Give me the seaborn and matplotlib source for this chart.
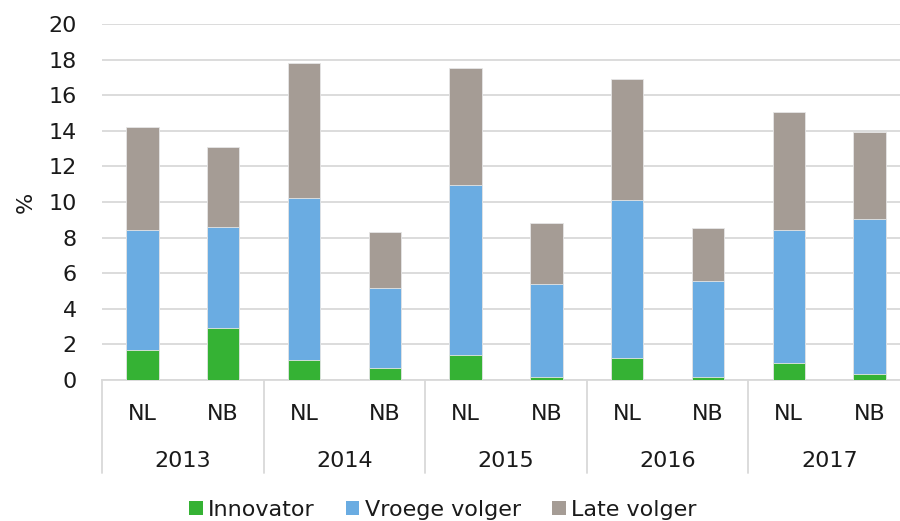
import numpy as np
import pandas as pd
import matplotlib
matplotlib.use("Agg")
import matplotlib.pyplot as plt
import matplotlib.transforms as mtransforms
from matplotlib.patches import Patch
import seaborn as sns

years = ["2013", "2014", "2015", "2016", "2017"]
regions = ["NL", "NB"]
series = ["Innovator", "Vroege volger", "Late volger"]
colors = ["#35B234", "#6AACE2", "#A59C95"]

innovator = [1.7, 2.9, 1.1, 0.65, 1.4, 0.15, 1.25, 0.15, 0.95, 0.35]
vroege_volger = [6.7, 5.7, 9.1, 4.5, 9.55, 5.25, 8.85, 5.4, 7.5, 8.7]
late_volger = [5.8, 4.5, 7.6, 3.15, 6.6, 3.4, 6.8, 3.0, 6.6, 4.9]

labels = [f"{y} {r}" for y in years for r in regions]
df = pd.DataFrame({"bar": labels, "Innovator": innovator,
                   "Vroege volger": vroege_volger, "Late volger": late_volger})
# cumulative tops for stacking
df["top_innovator"] = df["Innovator"]
df["top_vroege"] = df["top_innovator"] + df["Vroege volger"]
df["top_late"] = df["top_vroege"] + df["Late volger"]

sns.set_style("white")
plt.rcParams["font.family"] = ["DejaVu Sans"]

fig = plt.figure(figsize=(9, 5.21), dpi=100)
ax = fig.add_axes([102 / 900, 1 - 380 / 521, 808 / 900, 356 / 521])

for col, c in zip(["top_late", "top_vroege", "top_innovator"], colors[::-1]):
    sns.barplot(data=df, x="bar", y=col, color=c, width=0.4, ax=ax,
                saturation=1, edgecolor="#e6e6e6", linewidth=0.6, zorder=3)

ax.set_ylim(0, 20)
ax.set_xlim(-0.5, 9.5)
ax.set_yticks(np.arange(0, 21, 2))
ax.yaxis.grid(True, color="#d9d9d9", linewidth=1.3, zorder=0)
ax.set_axisbelow(True)
for s in ["top", "right", "left"]:
    ax.spines[s].set_visible(False)
ax.spines["bottom"].set_color("#d9d9d9")
ax.spines["bottom"].set_linewidth(1.3)

ax.set_xticks(range(len(labels)))
ax.set_xticklabels([r for y in years for r in regions])
ax.tick_params(axis="x", length=0, pad=17, labelsize=16, colors="#1a1a1a")
ax.tick_params(axis="y", length=0, pad=18, labelsize=16, colors="#1a1a1a")
ax.set_xlabel("")
ax.set_ylabel("%", fontsize=16, labelpad=9, color="#1a1a1a")

trans = mtransforms.blended_transform_factory(ax.transData, ax.transAxes)
for i, y in enumerate(years):
    ax.text(2 * i + 0.5, -0.228, y, transform=trans, ha="center", va="center",
            fontsize=16, color="#1a1a1a")
for i in range(len(years) + 1):
    x = 2 * i - 0.5
    ax.plot([x, x], [0, -0.26], transform=trans, color="#d9d9d9",
            linewidth=1.3, clip_on=False)

handles = [Patch(facecolor=c, edgecolor="none", label=s) for s, c in zip(series, colors)]
fig.legend(handles=handles, loc="center", bbox_to_anchor=(443 / 900, 1 - 510 / 521),
           ncol=3, frameon=False, fontsize=16, handlelength=0.6, handleheight=0.6,
           handletextpad=0.25, columnspacing=1.4, labelcolor="#1a1a1a")

fig.savefig("out.png", dpi=100)
